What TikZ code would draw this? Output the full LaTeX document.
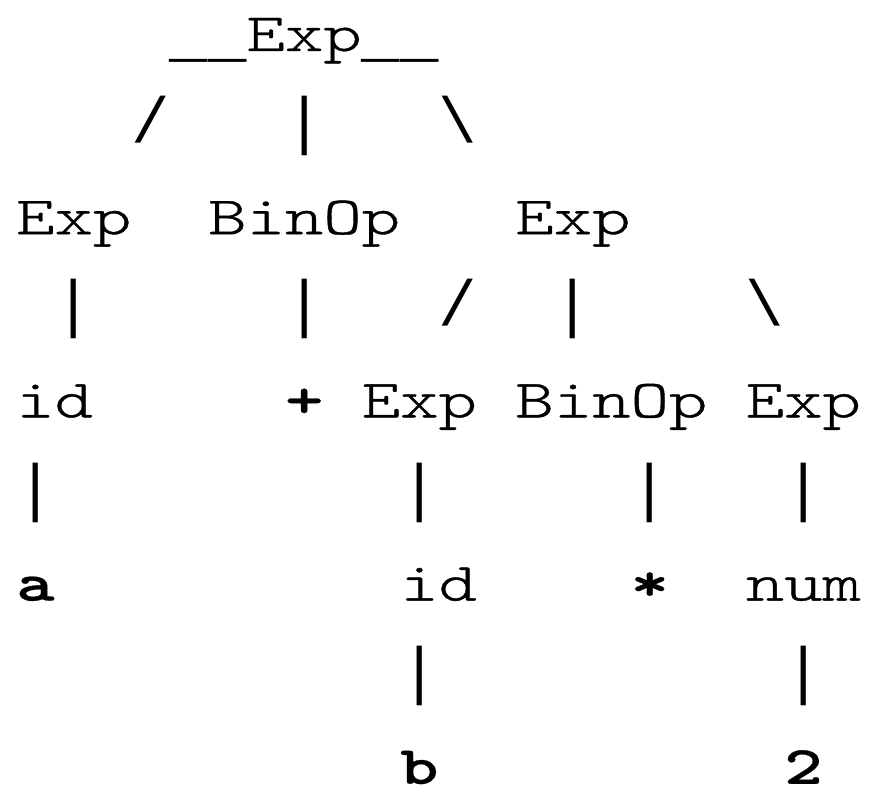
\documentclass[tikz,border=0pt]{standalone}
\usepackage{fontspec}
\newfontfamily\courreg[FakeStretch=1.354,FakeBold=0.7]{lmmonolt10-regular.otf}
\newfontfamily\courbold[FakeStretch=1.354,FakeBold=0.5]{lmmonolt10-bold.otf}
\newfontfamily\linefont{Liberation Mono}
\newcommand\mytok[5]{\node[#4] (#1) at ({16+#2*38.4},{51+(#3-1)*91.6}) {#5};}
\begin{document}
\begin{tikzpicture}[x=1pt,y=-1pt,
  t/.style={anchor=base west, inner sep=0pt, text depth=0pt, font=\courreg\fontsize{54}{54}\selectfont},
  tb/.style={anchor=base west, inner sep=0pt, text depth=0pt, font=\courbold\fontsize{54}{54}\selectfont},
  ln/.style={anchor=base west, inner sep=0pt, font=\linefont\fontsize{64}{64}\selectfont}]
\useasboundingbox (0,0) rectangle (869,791);
% line 1
\mytok{u1}{4}{1.05}{ln}{\_\_}
\mytok{root}{6}{1}{t}{Exp}
\mytok{u2}{9}{1.05}{ln}{\_\_}
% line 2
\mytok{s1}{3}{2}{ln}{/}
\mytok{s2}{7}{2}{ln}{|}
\mytok{s3}{11}{2}{ln}{\textbackslash}
% line 3
\mytok{e1}{0}{3}{t}{Exp}
\mytok{op1}{5}{3}{t}{BinOp}
\mytok{e2}{13}{3}{t}{Exp}
% line 4
\mytok{s4}{1}{4}{ln}{|}
\mytok{s5}{7}{4}{ln}{|}
\mytok{s6}{11}{4}{ln}{/}
\mytok{s7}{14}{4}{ln}{|}
\mytok{s8}{19}{4}{ln}{\textbackslash}
% line 5
\mytok{id1}{0}{5}{t}{id}
\mytok{plus}{7}{5}{tb}{+}
\mytok{e3}{9}{5}{t}{Exp}
\mytok{op2}{13}{5}{t}{BinOp}
\mytok{e4}{19}{5}{t}{Exp}
% line 6
\mytok{s9}{0}{6}{ln}{|}
\mytok{s10}{10}{6}{ln}{|}
\mytok{s11}{16}{6}{ln}{|}
\mytok{s12}{20}{6}{ln}{|}
% line 7
\mytok{a}{0}{7}{tb}{a}
\mytok{id2}{10}{7}{t}{id}
\mytok{times}{16}{7}{tb}{*}
\mytok{num}{19}{7}{t}{num}
% line 8
\mytok{s13}{10}{8}{ln}{|}
\mytok{s14}{20}{8}{ln}{|}
% line 9
\mytok{b}{10}{9}{tb}{b}
\mytok{two}{20}{9}{tb}{2}
\end{tikzpicture}
\end{document}
